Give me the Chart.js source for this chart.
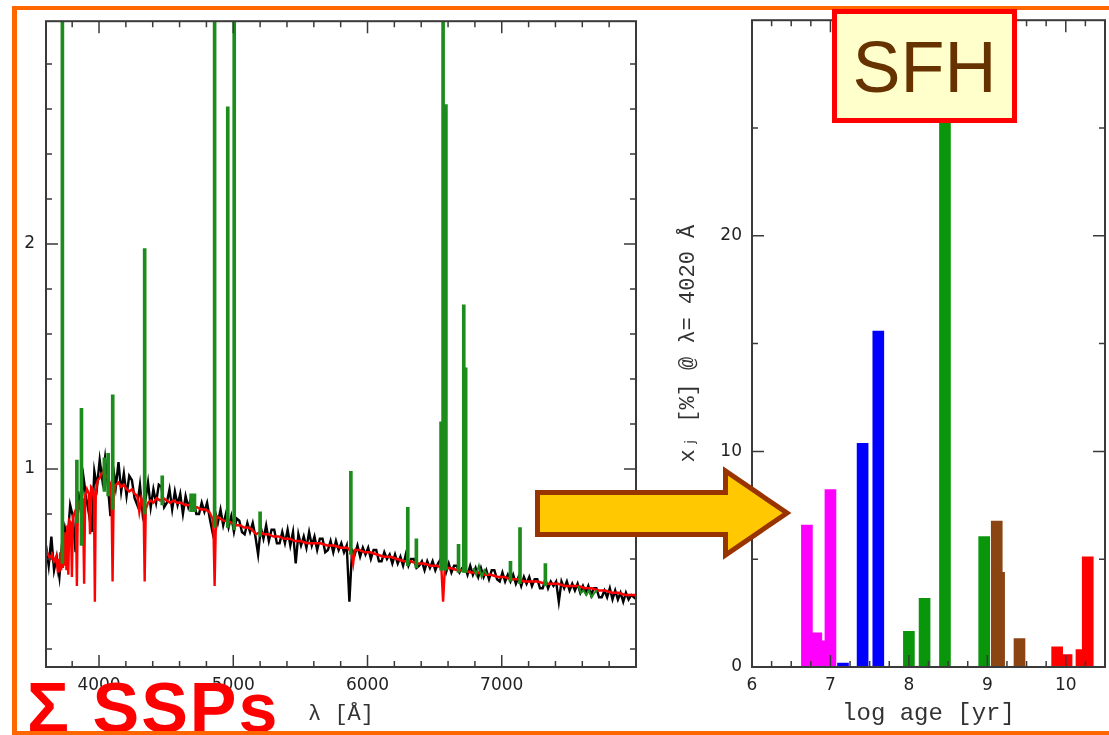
<!DOCTYPE html>
<html>
<head>
<meta charset="utf-8">
<title>Spectral synthesis and SFH</title>
<script src="https://cdn.jsdelivr.net/npm/chart.js@4"></script>
<style>
  html, body { margin: 0; padding: 0; background: #fff; overflow: hidden; }
  #wrap { position: relative; width: 1109px; height: 735px; overflow: hidden; }
  canvas { position: absolute; top: 0; }
  #spec { left: 0; }
  #sfh { left: 650px; }
  #arrow { position: absolute; left: 0; top: 0; pointer-events: none; }
  #ssp {
    position: absolute; left: 27px; top: 673px;
    font: bold 70px 'Liberation Sans', Arial, sans-serif; line-height: 70px;
    color: #ff0000; letter-spacing: 2px; white-space: nowrap;
  }
  #frame {
    position: absolute; left: 12px; top: 6px; width: 1120px; height: 721px;
    border: solid #ff6600; border-width: 4px 0 4px 5px;
  }
  #sfhbox {
    position: absolute; left: 832px; top: 9px; width: 185px; height: 114px;
    box-sizing: border-box; border: 5px solid #ff0000; background: #ffffcc;
    font: 72px 'Liberation Sans', Arial, sans-serif; line-height: 72px; color: #663300;
    text-align: center; padding-top: 17px;
  }
</style>
</head>
<body>
<div id="wrap">
  <canvas id="spec" width="650" height="735"></canvas>
  <canvas id="sfh" width="459" height="735"></canvas>
  <svg id="arrow" width="1109" height="735">
    <polygon points="537.5,492.5 725.5,492.5 725.5,471 787,513 725.5,555 725.5,534.5 537.5,534.5"
             fill="#ffc800" stroke="#993300" stroke-width="5" stroke-linejoin="miter"/>
  </svg>
  <div id="ssp">&Sigma; SSPs</div>
  <div id="frame"></div>
  <div id="sfhbox">SFH</div>
</div>
<script>
// observed spectrum, sampled every 20 A from obsStart
const obsStart = 3605, obsStep = 20;
const obsFlux = [
  0.66, 0.57, 0.70, 0.55, 0.61, 0.52, 0.67, 0.74, 0.68, 0.84,
  0.79, 0.63, 0.90, 0.81, 0.96, 0.87, 0.80, 0.72, 0.99, 0.92,
  1.04, 0.95, 1.05, 0.93, 0.79, 1.01, 0.92, 1.03, 0.90, 0.98,
  0.88, 0.97, 0.95, 0.87, 0.84, 0.93, 0.80, 0.86, 0.94, 0.83,
  0.91, 0.85, 0.93, 0.92, 0.83, 0.85, 0.91, 0.82, 0.90, 0.84,
  0.89, 0.80, 0.88, 0.83, 0.87, 0.86, 0.80, 0.80, 0.85, 0.81,
  0.85, 0.78, 0.72, 0.81, 0.76, 0.82, 0.75, 0.80, 0.74, 0.79,
  0.72, 0.78, 0.77, 0.72, 0.71, 0.76, 0.72, 0.76, 0.70, 0.62,
  0.74, 0.69, 0.75, 0.68, 0.73, 0.73, 0.67, 0.67, 0.72, 0.67,
  0.73, 0.66, 0.72, 0.58, 0.71, 0.66, 0.70, 0.65, 0.72, 0.66,
  0.70, 0.64, 0.69, 0.69, 0.63, 0.64, 0.68, 0.63, 0.68, 0.64,
  0.67, 0.63, 0.66, 0.41, 0.64, 0.62, 0.66, 0.61, 0.65, 0.62,
  0.65, 0.60, 0.64, 0.64, 0.59, 0.59, 0.63, 0.60, 0.62, 0.58,
  0.62, 0.58, 0.61, 0.57, 0.62, 0.57, 0.60, 0.60, 0.56, 0.57,
  0.59, 0.55, 0.59, 0.56, 0.59, 0.55, 0.58, 0.60, 0.58, 0.54,
  0.58, 0.54, 0.57, 0.57, 0.54, 0.56, 0.57, 0.53, 0.57, 0.53,
  0.56, 0.52, 0.56, 0.52, 0.55, 0.51, 0.55, 0.55, 0.51, 0.50,
  0.54, 0.50, 0.53, 0.50, 0.53, 0.49, 0.52, 0.48, 0.52, 0.49,
  0.52, 0.48, 0.51, 0.51, 0.47, 0.47, 0.51, 0.47, 0.50, 0.48,
  0.50, 0.41, 0.50, 0.47, 0.50, 0.46, 0.49, 0.46, 0.49, 0.45,
  0.48, 0.45, 0.48, 0.44, 0.47, 0.47, 0.43, 0.43, 0.46, 0.43,
  0.47, 0.42, 0.46, 0.42, 0.45, 0.41, 0.45, 0.42, 0.44, 0.43,
  0.42
];

// best-fit model (sum of SSPs)
const modelWave = [
  3605, 3620, 3635, 3650, 3665, 3680, 3690, 3697, 3704, 3711, 3718, 3725, 3731, 3737, 3744, 3750,
  3757, 3764, 3771, 3779, 3790, 3798, 3806, 3820, 3828, 3835, 3842, 3855, 3868, 3880, 3889, 3897,
  3910, 3925, 3933, 3941, 3955, 3962, 3969, 3976, 3990, 4005, 4020, 4035, 4050, 4065, 4080, 4093,
  4101, 4109, 4125, 4145, 4165, 4185, 4205, 4225, 4245, 4265, 4285, 4300, 4315, 4332, 4340, 4348,
  4365, 4385, 4405, 4430, 4455, 4480, 4505, 4530, 4555, 4580, 4610, 4640, 4670, 4700, 4730, 4760,
  4790, 4820, 4845, 4853, 4861, 4869, 4878, 4900, 4930, 4960, 4990, 5020, 5050, 5080, 5110, 5140,
  5170, 5200, 5230, 5260, 5300, 5340, 5380, 5420, 5460, 5500, 5550, 5600, 5650, 5700, 5750, 5800,
  5850, 5880, 5893, 5905, 5940, 5980, 6020, 6070, 6120, 6170, 6220, 6270, 6320, 6370, 6420, 6470,
  6520, 6550, 6563, 6576, 6620, 6670, 6720, 6770, 6820, 6870, 6920, 6970, 7020, 7070, 7120, 7170,
  7220, 7270, 7320, 7370, 7420, 7470, 7520, 7570, 7620, 7670, 7720, 7770, 7820, 7870, 7920, 7970,
  8000
];
const modelFlux = [
  0.64, 0.62, 0.60, 0.62, 0.59, 0.61, 0.56, 0.60, 0.54, 0.63, 0.55, 0.67, 0.56, 0.70, 0.57, 0.72,
  0.55, 0.75, 0.53, 0.77, 0.76, 0.52, 0.79, 0.81, 0.78, 0.48, 0.82, 0.85, 0.83, 0.87, 0.49, 0.88,
  0.91, 0.89, 0.71, 0.92, 0.91, 0.85, 0.41, 0.90, 0.95, 0.96, 0.98, 0.99, 0.97, 0.96, 0.94, 0.88,
  0.50, 0.89, 0.93, 0.94, 0.92, 0.93, 0.91, 0.90, 0.91, 0.89, 0.88, 0.81, 0.87, 0.83, 0.50, 0.82,
  0.85, 0.86, 0.85, 0.87, 0.86, 0.87, 0.86, 0.85, 0.86, 0.85, 0.85, 0.84, 0.84, 0.83, 0.83, 0.82,
  0.82, 0.81, 0.78, 0.72, 0.48, 0.72, 0.79, 0.78, 0.77, 0.77, 0.76, 0.75, 0.75, 0.74, 0.74, 0.73,
  0.71, 0.72, 0.71, 0.71, 0.70, 0.70, 0.69, 0.69, 0.68, 0.68, 0.67, 0.67, 0.67, 0.66, 0.66, 0.65,
  0.65, 0.63, 0.58, 0.64, 0.64, 0.63, 0.63, 0.62, 0.61, 0.61, 0.60, 0.59, 0.59, 0.58, 0.58, 0.57,
  0.57, 0.56, 0.41, 0.56, 0.56, 0.55, 0.55, 0.54, 0.54, 0.53, 0.53, 0.52, 0.52, 0.51, 0.51, 0.50,
  0.50, 0.50, 0.49, 0.49, 0.49, 0.48, 0.48, 0.48, 0.47, 0.47, 0.46, 0.46, 0.45, 0.45, 0.44, 0.44,
  0.44
];

// masked emission lines: wavelength, continuum level, peak
const lineWave = [3727, 3835, 3869, 4040, 4068, 4102, 4340, 4471, 4686, 4711, 4861, 4959, 5007,
                  5200, 5876, 6300, 6364, 6548, 6563, 6584, 6678, 6717, 6731, 7065, 7136, 7325];
const lineBase = [0.58, 0.76, 0.66, 0.90, 0.88, 0.82, 0.80, 0.84, 0.81, 0.81, 0.74, 0.74, 0.73,
                  0.70, 0.62, 0.57, 0.56, 0.55, 0.55, 0.55, 0.54, 0.54, 0.54, 0.50, 0.49, 0.48];
const linePeak = [3.20, 1.04, 1.27, 1.05, 1.07, 1.33, 1.98, 0.97, 0.89, 0.89, 3.20, 2.61, 3.20,
                  0.81, 0.99, 0.83, 0.69, 1.21, 3.20, 2.62, 0.665, 1.73, 1.45, 0.59, 0.74, 0.58];

// other masked windows of the observed spectrum
const maskWave = [6790, 6810, 6830, 6850, 6870, 6890, 7200, 7570, 7590, 7610, 7630, 7650, 7670, 7690, 7710];
const maskFlux = [0.56, 0.53, 0.57, 0.52, 0.55, 0.53, null, 0.48, 0.45, 0.46, 0.44, 0.46, 0.43, 0.45, 0.46];

const specXTicks = [3800, 4000, 4200, 4400, 4600, 4800, 5000, 5200, 5400, 5600, 5800, 6000,
                    6200, 6400, 6600, 6800, 7000, 7200, 7400, 7600, 7800];
const specXLabels = [4000, 5000, 6000, 7000];
const specYTicks = [0.2, 0.4, 0.6, 0.8, 1, 1.2, 1.4, 1.6, 1.8, 2, 2.2, 2.4, 2.6, 2.8];
const specYLabels = [1, 2];

// population vector: log age, light fraction at 4020 A, age group
const ageLog  = [6.70, 6.82, 6.94, 7.00, 7.16, 7.41, 7.61, 8.00, 8.20, 8.46, 8.96, 9.12, 9.15, 9.41, 9.89, 10.01, 10.20, 10.28];
const ageFrac = [6.58, 1.58, 1.21, 8.23, 0.18, 10.38, 15.58, 1.66, 3.19, 29.0, 6.05, 6.77, 4.39, 1.32, 0.94, 0.58, 0.81, 5.11];
const ageGroup = ['young', 'young', 'young', 'young', 'inter', 'inter', 'inter', 'mid', 'mid', 'mid', 'mid',
                  'old', 'old', 'old', 'oldest', 'oldest', 'oldest', 'oldest'];

const sfhXTicks = [6, 6.25, 6.5, 6.75, 7, 7.25, 7.5, 7.75, 8, 8.25, 8.5, 8.75, 9, 9.25, 9.5, 9.75, 10, 10.25];
const sfhXLabels = [6, 7, 8, 9, 10];
const sfhYTicks = [0, 5, 10, 15, 20, 25];
const sfhYLabels = [0, 10, 20];

const groupColors = { young: '#ff00ff', inter: '#0000ff', mid: '#0a960a', old: '#8b4513', oldest: '#ff0000' };

const tickFont = { family: "'DejaVu Sans', sans-serif", size: 17 };
const titleFont = { family: "'Liberation Mono', 'DejaVu Sans Mono', monospace", size: 22 };

// box around the plot area with inward ticks on all four sides
const axisFrame = {
  id: 'axisFrame',
  afterDraw(chart, args, opts) {
    const { ctx, chartArea: a, scales: { x, y } } = chart;
    ctx.save();
    ctx.strokeStyle = '#3a3a3a';
    ctx.lineWidth = 1.5;
    ctx.beginPath();
    x.ticks.forEach(t => {
      const p = x.getPixelForValue(t.value);
      const len = opts.xMajor.includes(t.value) ? 12 : 6;
      ctx.moveTo(p, a.bottom); ctx.lineTo(p, a.bottom - len);
      ctx.moveTo(p, a.top); ctx.lineTo(p, a.top + len);
    });
    y.ticks.forEach(t => {
      const p = y.getPixelForValue(t.value);
      const len = opts.yMajor.includes(t.value) ? 12 : 6;
      ctx.moveTo(a.left, p); ctx.lineTo(a.left + len, p);
      ctx.moveTo(a.right, p); ctx.lineTo(a.right - len, p);
    });
    ctx.stroke();
    ctx.lineWidth = 2;
    ctx.strokeRect(a.left, a.top, a.right - a.left, a.bottom - a.top);
    ctx.restore();
  }
};

const hiddenGrid = { display: false, drawTicks: false, offset: false };

new Chart(document.getElementById('spec'), {
  type: 'line',
  data: {
    datasets: [
      {
        type: 'bar',
        data: lineWave.map((w, i) => ({ x: w, y: [lineBase[i], linePeak[i]] })),
        backgroundColor: '#1c8c1c',
        barThickness: 3,
        order: 0
      },
      {
        data: maskWave.map((w, i) => ({ x: w, y: maskFlux[i] })),
        borderColor: '#1c8c1c', borderWidth: 2, pointRadius: 0, order: 1
      },
      {
        data: modelWave.map((w, i) => ({ x: w, y: modelFlux[i] })),
        borderColor: '#ff0000', borderWidth: 2.4, pointRadius: 0, order: 2
      },
      {
        data: obsFlux.map((f, i) => ({ x: obsStart + i * obsStep, y: f })),
        borderColor: '#000000', borderWidth: 2.4, pointRadius: 0, order: 3
      }
    ]
  },
  options: {
    responsive: false,
    animation: false,
    layout: { padding: { top: 16, right: 14, left: 0, bottom: 0 } },
    plugins: {
      legend: { display: false },
      tooltip: { enabled: false },
      axisFrame: { xMajor: specXLabels, yMajor: specYLabels }
    },
    scales: {
      x: {
        type: 'linear', min: 3605, max: 8000, offset: false,
        grid: hiddenGrid, border: { display: false },
        afterBuildTicks: s => { s.ticks = specXTicks.map(v => ({ value: v })); },
        afterFit: s => { s.height = 68; },
        ticks: {
          autoSkip: false, maxRotation: 0, padding: 8, color: '#222', font: tickFont,
          callback: v => specXLabels.includes(v) ? String(v) : ''
        },
        title: { display: true, text: 'λ [Å]', color: '#333', font: titleFont, padding: { top: 0, bottom: 8 } }
      },
      y: {
        type: 'linear', min: 0.12, max: 2.99,
        grid: hiddenGrid, border: { display: false },
        afterBuildTicks: s => { s.ticks = specYTicks.map(v => ({ value: v })); },
        afterFit: s => { s.width = 46; },
        ticks: {
          autoSkip: false, padding: 11, color: '#222', font: tickFont,
          callback: v => specYLabels.includes(v) ? String(v) : ''
        }
      }
    }
  },
  plugins: [axisFrame]
});

new Chart(document.getElementById('sfh'), {
  type: 'bar',
  data: {
    datasets: [{
      data: ageLog.map((a, i) => ({ x: a, y: ageFrac[i] })),
      backgroundColor: ageGroup.map(g => groupColors[g]),
      barThickness: 11
    }]
  },
  options: {
    responsive: false,
    animation: false,
    layout: { padding: { top: 16, right: 4, left: 0, bottom: 0 } },
    plugins: {
      legend: { display: false },
      tooltip: { enabled: false },
      axisFrame: { xMajor: sfhXLabels, yMajor: sfhYLabels }
    },
    scales: {
      x: {
        type: 'linear', min: 6, max: 10.5, offset: false,
        grid: hiddenGrid, border: { display: false },
        afterBuildTicks: s => { s.ticks = sfhXTicks.map(v => ({ value: v })); },
        afterFit: s => { s.height = 68; },
        ticks: {
          autoSkip: false, maxRotation: 0, padding: 8, color: '#222', font: tickFont,
          callback: v => sfhXLabels.includes(v) ? String(v) : ''
        },
        title: {
          display: true, text: 'log age [yr]', color: '#333',
          font: { family: titleFont.family, size: 24 }, padding: { top: 0, bottom: 7 }
        }
      },
      y: {
        type: 'linear', min: 0, max: 30,
        grid: hiddenGrid, border: { display: false },
        afterBuildTicks: s => { s.ticks = sfhYTicks.map(v => ({ value: v })); },
        afterFit: s => { s.width = 102; },
        ticks: {
          autoSkip: false, padding: 10, color: '#222', font: tickFont,
          callback: v => sfhYLabels.includes(v) ? String(v) : ''
        },
        title: { display: true, text: 'xⱼ [%] @ λ= 4020 Å', color: '#333', font: titleFont, padding: { top: 25, bottom: 0 } }
      }
    }
  },
  plugins: [axisFrame]
});
</script>
</body>
</html>
